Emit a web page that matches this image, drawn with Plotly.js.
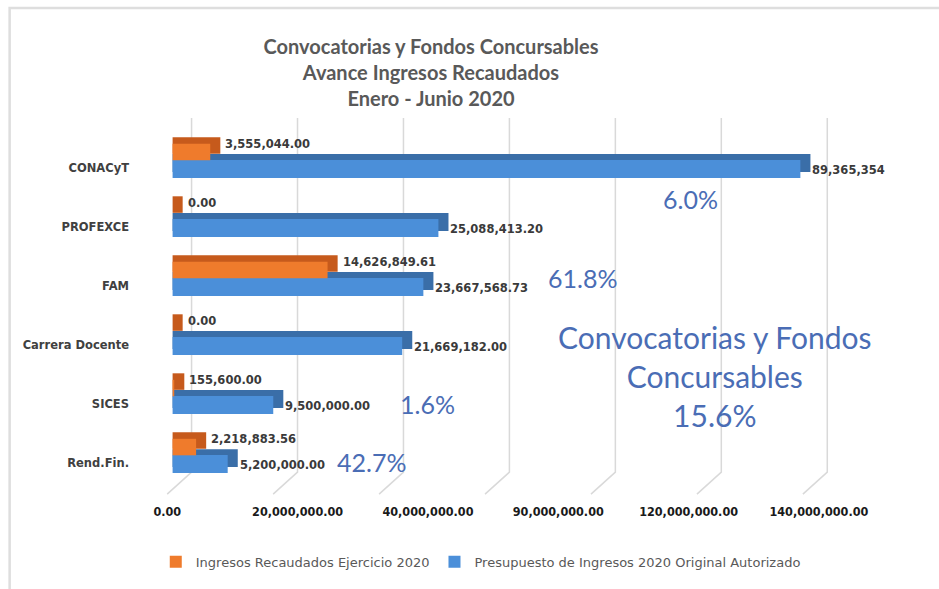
<!DOCTYPE html>
<html>
<head>
<meta charset="utf-8">
<script src="https://cdn.plot.ly/plotly-3.0.1.min.js"></script>
<style>
  html, body { margin: 0; padding: 0; background: #ffffff; }
  #chart { width: 939px; height: 589px; }
</style>
</head>
<body>
<div id="chart"></div>
<script>
// ---- data ----
const categories = ['Rend.Fin.', 'SICES', 'Carrera Docente', 'FAM', 'PROFEXCE', 'CONACyT'];
const recaudados = [2218883.56, 155600, 0, 14626849.61, 0, 3555044];
// CONACyT bar is drawn at ~59.3M (consistent with its 6.0%), though its label reads 89,365,354
const presupuesto = [5200000, 9500000, 21669182, 23667568.73, 25088413.20, 59250000];
const recaudadosLabels = ['2,218,883.56', '155,600.00', '0.00', '14,626,849.61', '0.00', '3,555,044.00'];
const presupuestoLabels = ['5,200,000.00', '9,500,000.00', '21,669,182.00', '23,667,568.73', '25,088,413.20', '89,365,354'];
const avanceLabels = ['42.7%', '1.6%', '61.8%', '6.0%'];
const totalLabel = ['Convocatorias y Fondos', 'Concursables', '15.6%'];
const tickLabels = ['0.00', '20,000,000.00', '40,000,000.00', '90,000,000.00', '120,000,000.00', '140,000,000.00'];
const seriesNames = ['Ingresos Recaudados Ejercicio 2020', 'Presupuesto de Ingresos 2020 Original Autorizado'];

// ---- styles ----
const depth = 0.95e6;           // 3D depth offset of bars (in axis units)
const gridShift = 1.79e6;       // back-wall gridlines are shifted right of the bar origin
const gridSlant = 2.3e6;        // floor part of the gridlines slants back to the front
const gridStep = 10e6, gridCount = 7;
const blueFront = '#4b8fd9', blueBack = '#3a6ea8';
const orangeFront = '#ef7b2c', orangeBack = '#c65a1c';
const labelFont = {family: 'DejaVu Sans', size: 11.5, color: '#3a3a3a', weight: 'bold'};
const pctFont = {family: 'Lato', size: 25, color: '#4a6db5'};
const xRange = [-1e6, 66.2e6];

const traces = [
  {type: 'bar', orientation: 'h', y: categories, x: presupuesto.map(v => v + depth),
   offset: -0.07, width: 0.305, marker: {color: blueBack}, showlegend: false, hoverinfo: 'skip'},
  {type: 'bar', orientation: 'h', y: categories, x: presupuesto, name: seriesNames[1],
   offset: -0.17, width: 0.305, marker: {color: blueFront}, legendrank: 2},
  {type: 'bar', orientation: 'h', y: categories, x: recaudados.map(v => v + depth),
   offset: 0.24, width: 0.28, marker: {color: orangeBack}, showlegend: false, hoverinfo: 'skip'},
  {type: 'bar', orientation: 'h', y: categories, x: recaudados, name: seriesNames[0],
   offset: 0.13, width: 0.28, marker: {color: orangeFront}, legendrank: 1}
];

const annotations = [];
categories.forEach((c, i) => {
  annotations.push({x: presupuesto[i], y: c, xref: 'x', yref: 'y', text: presupuestoLabels[i],
    xanchor: 'left', yanchor: 'middle', xshift: 10, yshift: -2, showarrow: false, font: labelFont});
  annotations.push({x: recaudados[i], y: c, xref: 'x', yref: 'y', text: recaudadosLabels[i],
    xanchor: 'left', yanchor: 'middle', xshift: 13, yshift: 24, showarrow: false, font: labelFont});
});
const pctPos = [[0.294, 0.063], [0.373, 0.221], [0.591, 0.564], [0.742, 0.779]];
avanceLabels.forEach((t, i) => {
  annotations.push({x: pctPos[i][0], y: pctPos[i][1], xref: 'paper', yref: 'paper', text: t,
    showarrow: false, xanchor: 'center', yanchor: 'middle', font: pctFont});
});
annotations.push({x: 0.776, y: 0.297, xref: 'paper', yref: 'paper', text: totalLabel.join('<br>'),
  showarrow: false, xanchor: 'center', yanchor: 'middle', align: 'center',
  font: {family: 'Lato', size: 30, color: '#4a6db5'}});

// gridlines of the 3D back wall + floor
const shapes = [];
for (let k = 0; k < gridCount; k++) {
  const xb = k * gridStep + gridShift, xf = xb - gridSlant;
  shapes.push({type: 'path', xref: 'x', yref: 'paper', layer: 'below',
    path: `M ${xb},1 L ${xb},0.035 L ${xf},-0.025`,
    line: {color: '#d9d9d9', width: 1.5}});
}
shapes.push({type: 'rect', xref: 'paper', yref: 'paper', x0: -0.214, x1: 1.3, y0: -0.4, y1: 1.2997,
  line: {color: '#dedede', width: 2.5}, fillcolor: 'rgba(0,0,0,0)', layer: 'below'});

const layout = {
  width: 939, height: 589,
  paper_bgcolor: '#ffffff', plot_bgcolor: 'rgba(0,0,0,0)',
  margin: {l: 162.4, r: 64.6, t: 118, b: 104},
  barmode: 'overlay',
  title: {
    text: 'Convocatorias y Fondos Concursables<br>Avance Ingresos Recaudados<br>Enero - Junio 2020',
    font: {family: 'Lato', size: 20, color: '#595959', weight: 'bold'},
    x: 0.459, xref: 'container', xanchor: 'center',
    y: 0.908, yref: 'container', yanchor: 'top'
  },
  xaxis: {
    range: xRange, showgrid: false, zeroline: false, showline: false,
    tickmode: 'array', tickvals: tickLabels.map((_, i) => i * 12.3e6 - 0.5e6), ticktext: tickLabels,
    ticks: '', ticklabelstandoff: 17,
    tickfont: {family: 'DejaVu Sans Condensed', size: 12.5, color: '#1a1a1a', weight: 'bold'}
  },
  yaxis: {
    type: 'category', categoryorder: 'array', categoryarray: categories,
    range: [-0.373, 5.847], showgrid: false, zeroline: false, showline: false,
    ticks: '', ticklabelstandoff: 32,
    tickfont: {family: 'DejaVu Sans', size: 11.5, color: '#404040', weight: 'bold'}
  },
  legend: {
    orientation: 'h', xref: 'container', yref: 'container',
    x: 0.512, y: 0.046, xanchor: 'center', yanchor: 'middle', itemwidth: 30,
    font: {family: 'DejaVu Sans', size: 13, color: '#595959'}, traceorder: 'normal'
  },
  annotations: annotations,
  shapes: shapes,
  showlegend: true
};

Plotly.newPlot('chart', traces, layout, {displayModeBar: false, staticPlot: true});
</script>
</body>
</html>
